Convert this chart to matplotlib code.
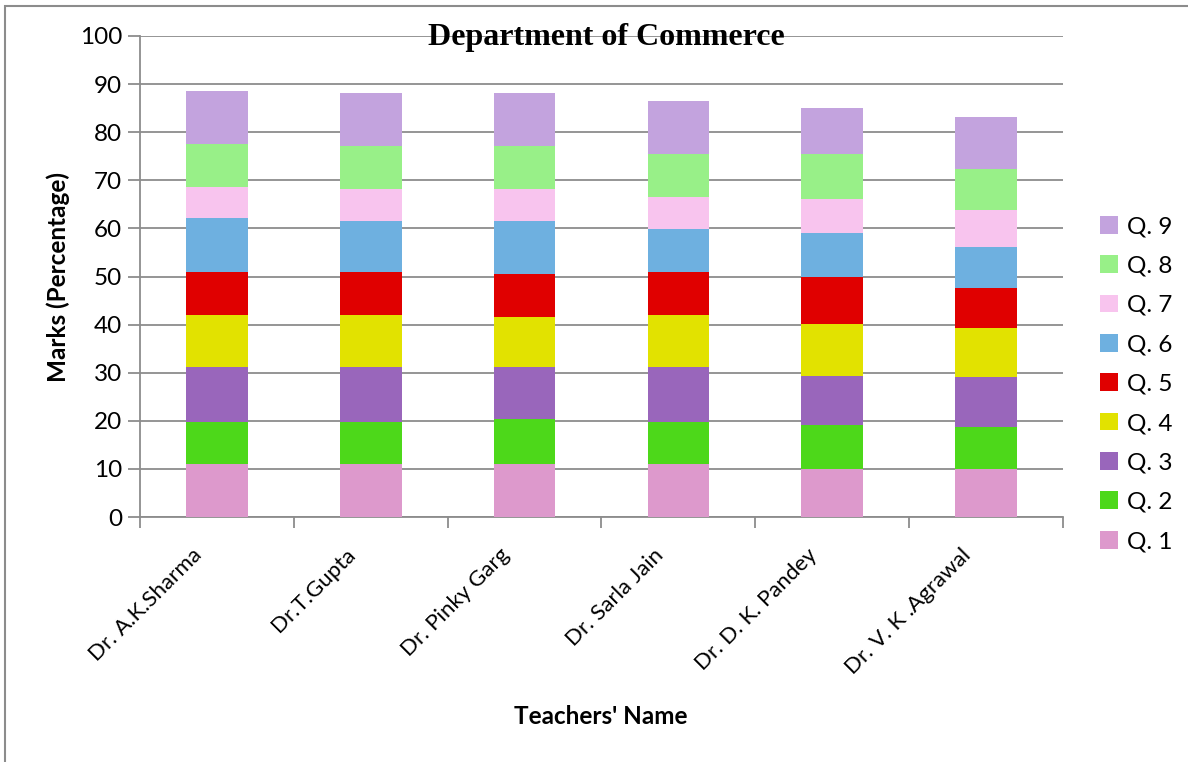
import matplotlib
matplotlib.use("Agg")
import matplotlib.pyplot as plt
import matplotlib.transforms as mtransforms
from matplotlib.patches import Rectangle, Patch
import numpy as np

plt.rcParams['font.family'] = ['Lato', 'DejaVu Sans']

teachers = ["Dr. A.K.Sharma", "Dr.T.Gupta", "Dr. Pinky Garg", "Dr. Sarla Jain",
            "Dr. D. K. Pandey", "Dr. V. K .Agrawal"]
questions = ["Q. 1", "Q. 2", "Q. 3", "Q. 4", "Q. 5", "Q. 6", "Q. 7", "Q. 8", "Q. 9"]

q1 = [11.1, 11.1, 11.1, 11.1, 9.9, 9.9]
q2 = [8.7, 8.7, 9.3, 8.7, 9.3, 8.8]
q3 = [11.3, 11.3, 10.7, 11.3, 10.2, 10.5]
q4 = [10.9, 10.9, 10.4, 10.9, 10.8, 10.0]
q5 = [8.9, 8.9, 9.0, 8.9, 9.6, 8.4]
q6 = [11.2, 10.7, 11.1, 8.9, 9.2, 8.5]
q7 = [6.6, 6.6, 6.6, 6.7, 7.1, 7.8]
q8 = [8.8, 9.0, 9.0, 9.0, 9.4, 8.5]
q9 = [11.1, 11.0, 11.0, 11.0, 9.5, 10.8]
series = [q1, q2, q3, q4, q5, q6, q7, q8, q9]

colors = ["#dd99cc", "#4dd81a", "#9966bb", "#e2e200", "#e00000",
          "#6eb0e0", "#f8c4ee", "#98f088", "#c3a3de"]

yticks = [0, 10, 20, 30, 40, 50, 60, 70, 80, 90, 100]

W, H = 1188, 762
fig = plt.figure(figsize=(W / 100, H / 100), dpi=100)
fig.patch.set_facecolor("white")

# outer chart frame
fig.patches.append(Rectangle((5 / W, -0.05), 1.2, 1.05 - 6 / H, transform=fig.transFigure,
                             fill=False, edgecolor="#8c8c8c", linewidth=1.5, zorder=0))

ax = fig.add_axes([140 / W, 1 - 517 / H, (1063 - 140) / W, (517 - 36) / H])
x = np.arange(len(teachers))
bottom = np.zeros(len(teachers))
for vals, col in zip(series, colors):
    ax.bar(x, vals, width=0.4, bottom=bottom, color=col, edgecolor="none", zorder=3)
    bottom += np.array(vals)

ax.set_xlim(-0.5, len(teachers) - 0.5)
ax.set_ylim(0, 100)
ax.set_yticks(yticks)
ax.set_yticklabels([str(v) for v in yticks], fontsize=17.5)
ax.yaxis.grid(True, color="#8c8c8c", linewidth=1.3, zorder=0)
ax.set_axisbelow(True)
for s in ["top", "right"]:
    ax.spines[s].set_visible(False)
for s in ["left", "bottom"]:
    ax.spines[s].set_color("#8c8c8c")
    ax.spines[s].set_linewidth(1.3)
ax.tick_params(axis="y", length=9, width=1.3, color="#8c8c8c", pad=4)

ax.set_xticks(x)
ax.set_xticks(np.arange(-0.5, len(teachers)), minor=True)
ax.tick_params(axis="x", which="major", length=0, pad=25)
ax.tick_params(axis="x", which="minor", length=8, width=1.3, color="#8c8c8c")
ax.set_xticklabels(teachers, rotation=45, ha="right", va="center",
                   rotation_mode="anchor", fontsize=16)
offset = mtransforms.ScaledTranslation(-18 / 100, 0, fig.dpi_scale_trans)
for lab in ax.get_xticklabels():
    lab.set_transform(lab.get_transform() + offset)

ax.set_ylabel("Marks (Percentage)", fontsize=17.5, fontweight="bold")
ax.yaxis.set_label_coords(-0.076, 0.5)
fig.text(601 / W, 1 - 716 / H, "Teachers' Name", fontsize=17.5, fontweight="bold",
         ha="center", va="center")

fig.text(606 / W, 1 - 37 / H, "Department of Commerce", fontsize=23, fontweight="bold",
         family="Liberation Serif", ha="center", va="center")

handles = [Patch(facecolor=c, edgecolor="none", label=q) for q, c in zip(questions, colors)]
leg = fig.legend(handles[::-1], questions[::-1], loc="center left",
                 bbox_to_anchor=(1088 / W, 1 - 384 / H), frameon=False, fontsize=17.5,
                 handlelength=0.75, handleheight=0.75, handletextpad=0.35, labelspacing=0.74,
                 borderpad=0)

fig.savefig("out.png", dpi=100)
